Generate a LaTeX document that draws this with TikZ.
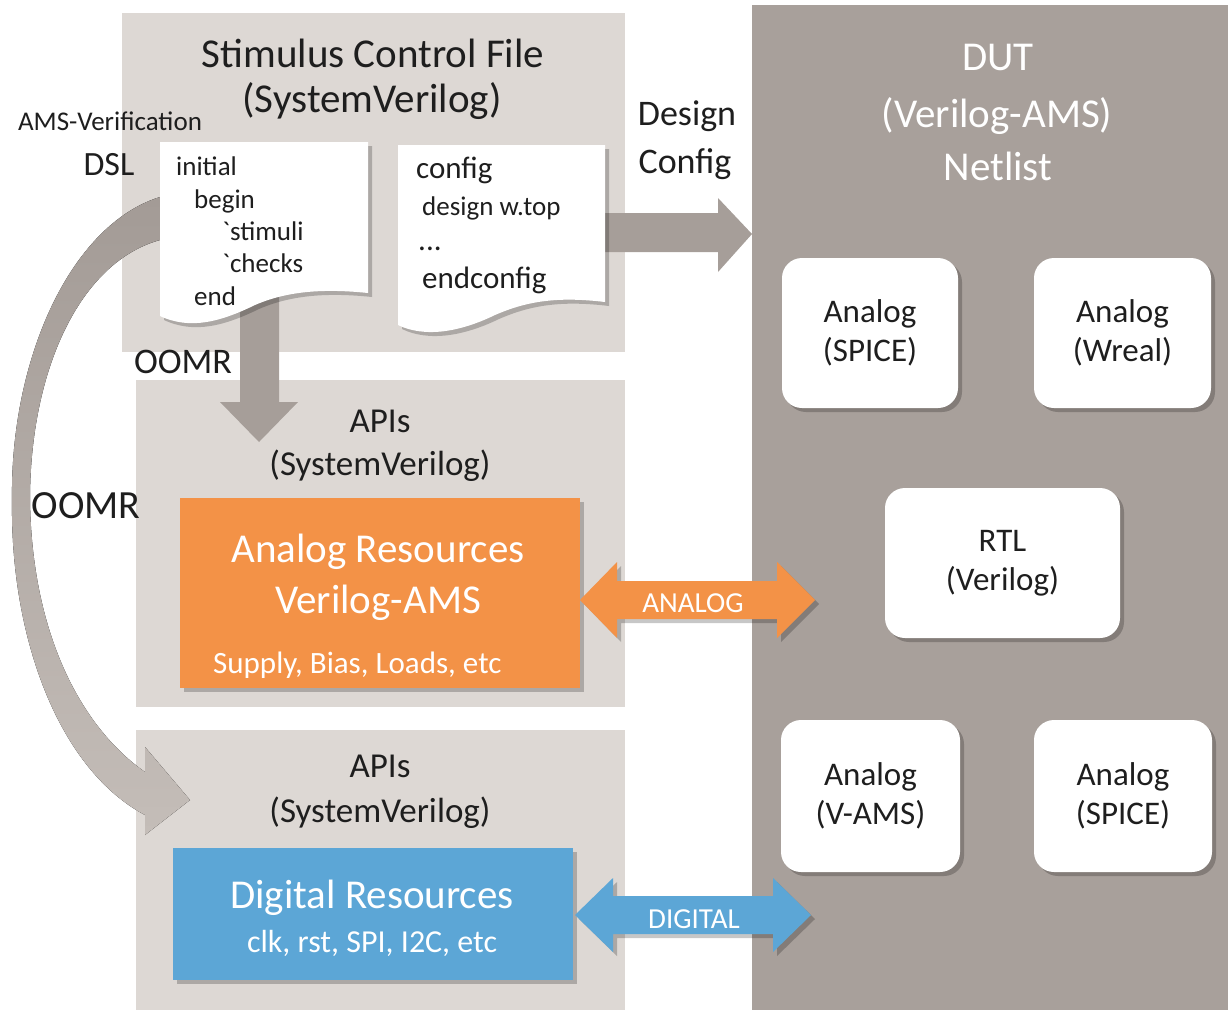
\documentclass[tikz,border=0pt]{standalone}
\usepackage{fontspec}
\setmainfont{Carlito}
\usetikzlibrary{shadows}

\definecolor{panelgray}{HTML}{DDD8D4}
\definecolor{dutgray}{HTML}{A8A09B}
\definecolor{flowgray}{HTML}{A69E99}
\definecolor{curvetop}{HTML}{A39B96}
\definecolor{curvebot}{HTML}{C4BDB8}
\definecolor{resorange}{HTML}{F39247}
\definecolor{resblue}{HTML}{5CA6D6}
\definecolor{inktext}{HTML}{1E1E1E}

\newcommand\fsz[2]{\fontsize{#1}{#2}\selectfont}

\begin{document}
\begin{tikzpicture}[x=1pt,y=-1pt,
  panel/.style={fill=panelgray, inner sep=0pt, outer sep=0pt},
  softshadow/.style={drop shadow={shadow xshift=4pt, shadow yshift=-4pt, opacity=0.22, fill=black}},
  resbox/.style={inner sep=0pt, outer sep=0pt, softshadow},
  dutbox/.style={fill=white, rounded corners=20pt, inner sep=0pt, align=center,
                 text=inktext, font=\fsz{33}{39}, softshadow},
  txt/.style={inner sep=0pt, text=inktext, anchor=base},
  wtxt/.style={inner sep=0pt, text=white, anchor=base},
  codetxt/.style={inner sep=0pt, text=inktext, anchor=base west},
  docshape/.style={fill=white, softshadow},
  blockarrow/.style={fill=flowgray},
]
\useasboundingbox (0,0) rectangle (1228,1010);

% ---- background panels
\node[panel, minimum width=503pt, minimum height=339pt] (stim) at (373.5,182.5) {};
\node[panel, minimum width=489pt, minimum height=327pt] (apiA) at (380.5,543.5) {};
\node[panel, minimum width=489pt, minimum height=280pt] (apiD) at (380.5,870) {};
\node[fill=dutgray, inner sep=0pt, outer sep=0pt, minimum width=476pt, minimum height=1005pt] (dut) at (990,507.5) {};

% ---- curved OOMR arrow from the stimulus file down to the digital APIs
\coordinate (curveStartA) at (160,197);
\coordinate (curveStartB) at (160,240);
\coordinate (curveTip) at (190,800);
\fill[top color=curvetop, bottom color=curvebot]
  (curveStartA) .. controls (70,225) and (10,360) .. (12,500)
  .. controls (10,640) and (60,770) .. (145,815)
  -- (145,835) -- (curveTip) -- (145,747) -- (145,772)
  .. controls (85,730) and (32,640) .. (30,500)
  .. controls (30,370) and (80,262) .. (curveStartB) -- cycle;

% ---- design config arrow into the DUT
\fill[blockarrow] (600,213) -- (718,213) -- (718,198) -- (dut.west |- 0,234)
  -- (718,272) -- (718,252) -- (600,252) -- cycle;

% ---- OOMR arrow down into the analog APIs
\fill[blockarrow] (240,290) -- (279,290) -- (279,402) -- (298,402) -- (259,442)
  -- (220,402) -- (240,402) -- cycle;

% ---- code documents
\path[docshape] (160,142) -- (368,142) -- (368,293)
  .. controls (320,288) and (285,292) .. (255,305)
  .. controls (220,322) and (190,330) .. (160,316) -- cycle;
\path[docshape] (398,145) -- (605,145) -- (605,302)
  .. controls (555,296) and (525,302) .. (495,315)
  .. controls (460,332) and (425,338) .. (398,325) -- cycle;

\node[codetxt, font=\fsz{27}{30}] (cInitial) at (176,175) {initial};
\node[codetxt, font=\fsz{27}{30}] (cBegin) at (194,208) {begin};
\node[codetxt, font=\fsz{27}{30}] (cStim) at (222,240) {\textasciigrave stimuli};
\node[codetxt, font=\fsz{27}{30}] (cChecks) at (222,272) {\textasciigrave checks};
\node[codetxt, font=\fsz{27}{30}] (cEnd) at (194,305) {end};

\node[codetxt, font=\fsz{31}{34}] (cConfig) at (416,178) {config};
\node[codetxt, font=\fsz{27}{30}] (cDesign) at (422,215) {design w.top};
\node[codetxt, font=\fsz{31}{34}] (cDots) at (418,250) {...};
\node[codetxt, font=\fsz{31}{34}] (cEndcfg) at (422,288) {endconfig};

% ---- resource blocks
\node[resbox, fill=resorange, minimum width=400pt, minimum height=190pt] (anres) at (380,593) {};
\node[resbox, fill=resblue, minimum width=400pt, minimum height=132pt] (digres) at (373,914) {};

% ---- DUT sub-blocks
\node[dutbox, minimum width=176pt, minimum height=150pt] (spiceA) at (870,333) {Analog\\(SPICE)};
\node[dutbox, minimum width=177pt, minimum height=150pt] (wreal) at (1122.5,333) {Analog\\(Wreal)};
\node[dutbox, minimum width=235pt, minimum height=150pt] (rtl) at (1002.5,563) {RTL\\(Verilog)};
\node[dutbox, minimum width=179pt, minimum height=152pt] (vams) at (870.5,796) {Analog\\(V-AMS)};
\node[dutbox, minimum width=178pt, minimum height=152pt] (spiceB) at (1123,796) {Analog\\(SPICE)};

% ---- bidirectional links
\fill[fill=resorange, softshadow] (anres.east |- 0,600) -- (617,562) -- (617,581) -- (777,581)
  -- (777,562) -- (815,600) -- (777,638) -- (777,619) -- (617,619) -- (617,638) -- cycle;
\fill[fill=resblue, softshadow] (575,915) -- (613,878) -- (613,896) -- (773,896)
  -- (773,878) -- (811,915) -- (773,952) -- (773,934) -- (613,934) -- (613,952) -- cycle;
\node[wtxt, font=\fsz{29}{32}] (analogLbl) at (693,612) {ANALOG};
\node[wtxt, font=\fsz{29}{32}] (digitalLbl) at (694,928) {DIGITAL};

% ---- titles and labels
\node[txt, font=\fsz{41}{45}] (stimT1) at (373,67) {Stimulus Control File};
\node[txt, font=\fsz{41}{45}] (stimT2) at (372,112) {(SystemVerilog)};
\node[txt, font=\fsz{27}{30}] (amsv) at (110,130) {AMS-Verification};
\node[txt, font=\fsz{34}{36}] (dsl) at (109,175) {DSL};
\node[txt, font=\fsz{36}{40}] (dcfgA) at (687,125) {Design};
\node[txt, font=\fsz{36}{40}] (dcfgB) at (685,173) {Config};

\node[wtxt, font=\fsz{41}{45}] (dutT1) at (998,70) {DUT};
\node[wtxt, font=\fsz{41}{45}] (dutT2) at (997,127) {(Verilog-AMS)};
\node[wtxt, font=\fsz{41}{45}] (dutT3) at (998,180) {Netlist};

\node[txt, font=\fsz{36}{40}] (oomrA) at (183,373) {OOMR};
\node[txt, font=\fsz{40}{44}] (oomrB) at (86,518) {OOMR};

\node[txt, font=\fsz{35}{40}] (apiA1) at (380,432) {APIs};
\node[txt, font=\fsz{35}{40}] (apiA2) at (380,475) {(SystemVerilog)};
\node[txt, font=\fsz{35}{40}] (apiD1) at (380,777) {APIs};
\node[txt, font=\fsz{35}{40}] (apiD2) at (380,822) {(SystemVerilog)};

\node[wtxt, font=\fsz{41}{45}] (anresT1) at (378,562) {Analog Resources};
\node[wtxt, font=\fsz{41}{45}] (anresT2) at (378,613) {Verilog-AMS};
\node[wtxt, font=\fsz{31}{34}, anchor=base west] (anresT3) at (213,673) {Supply, Bias, Loads, etc};

\node[wtxt, font=\fsz{41}{45}] (digresT1) at (372,908) {Digital Resources};
\node[wtxt, font=\fsz{32}{36}] (digresT2) at (372,952) {clk, rst, SPI, I2C, etc};
\end{tikzpicture}
\end{document}
